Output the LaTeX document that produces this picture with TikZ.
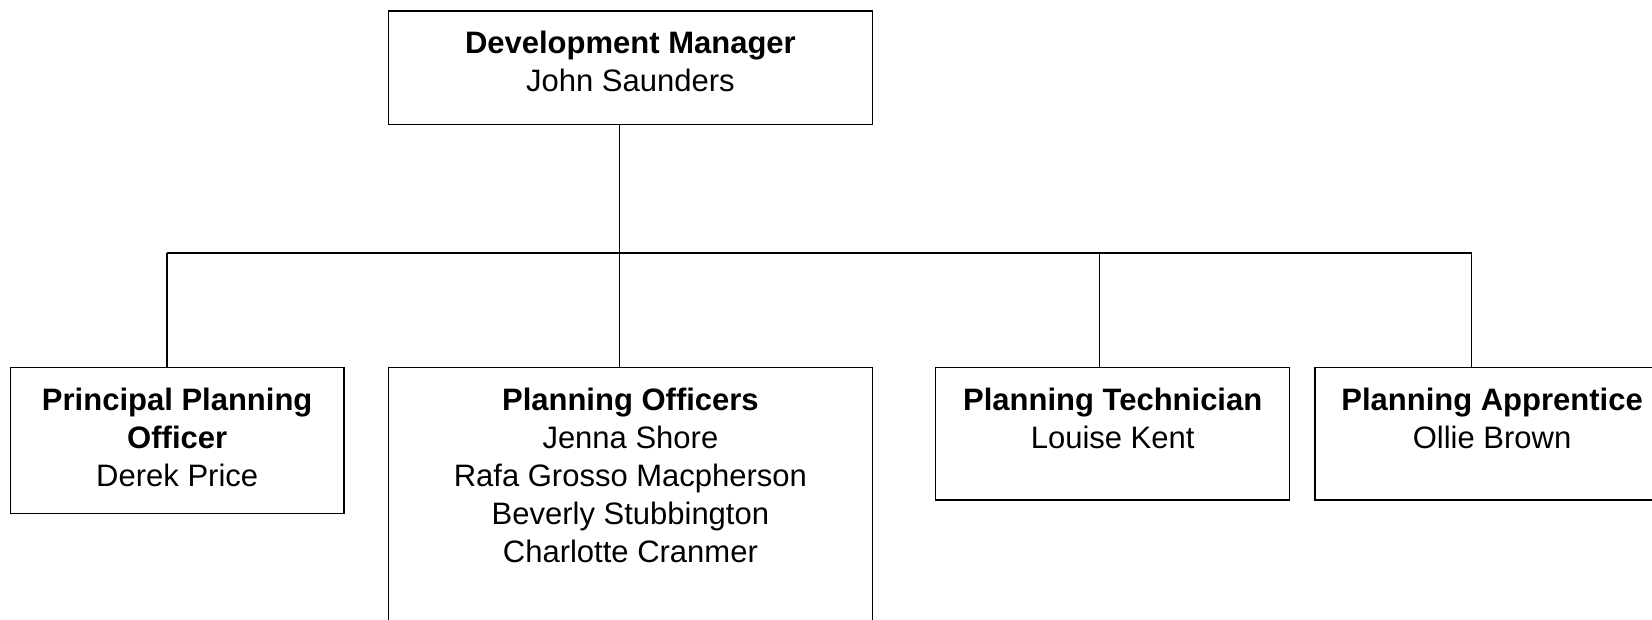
\documentclass[tikz,border=0pt]{standalone}
\usepackage{fontspec}
\setmainfont{Liberation Sans}
\begin{document}
\begin{tikzpicture}[x=0.5pt,y=-0.5pt,
  box/.style={draw=black,line width=0.65pt,rectangle,inner sep=0pt,anchor=north west},
  txt/.style={anchor=north,align=center,inner sep=0pt,font=\fontsize{15.5pt}{19pt}\selectfont},
  conn/.style={draw=black,line width=0.65pt}]
\useasboundingbox (0,0) rectangle (1652,620);
\clip (0,0) rectangle (1652,620);
% boxes
\node[box,minimum width=242.25pt,minimum height=56.75pt] (top) at (387.5,10.5) {};
\node[box,minimum width=166.75pt,minimum height=73pt] (ppo) at (9.8,366.7) {};
\node[box,minimum width=242.25pt,minimum height=140pt] (po) at (387.5,366.7) {};
\node[box,minimum width=177pt,minimum height=66.3pt] (pt) at (935,366.7) {};
\node[box,minimum width=177pt,minimum height=66.3pt] (pa) at (1314.4,366.7) {};
% texts
\node[txt] (ttop) at ([yshift=-8.2pt]top.north) {\strut\textbf{Development Manager}\\John Saunders};
\node[txt] (tppo) at ([yshift=-8.2pt]ppo.north) {\strut\textbf{Principal Planning}\\\textbf{Officer}\\Derek Price};
\node[txt] (tpo) at ([yshift=-8.2pt]po.north) {\strut\textbf{Planning Officers}\\Jenna Shore\\Rafa Grosso Macpherson\\Beverly Stubbington\\Charlotte Cranmer};
\node[txt] (tpt) at ([yshift=-8.2pt]pt.north) {\strut\textbf{Planning Technician}\\Louise Kent};
\node[txt] (tpa) at ([yshift=-8.2pt]pa.north) {\strut\textbf{Planning Apprentice}\\Ollie Brown};
% bus
\coordinate (j1) at (167,253);
\coordinate (j2) at (619.4,253);
\coordinate (j3) at (1099.5,253);
\coordinate (j4) at (1471.7,253);
\draw[conn] (j2 |- top.south) -- (j2);
\draw[conn] (j1) -- (j4);
\draw[conn] (j1) -- (j1 |- ppo.north);
\draw[conn] (j2) -- (j2 |- po.north);
\draw[conn] (j3) -- (j3 |- pt.north);
\draw[conn] (j4) -- (j4 |- pa.north);
\end{tikzpicture}
\end{document}
